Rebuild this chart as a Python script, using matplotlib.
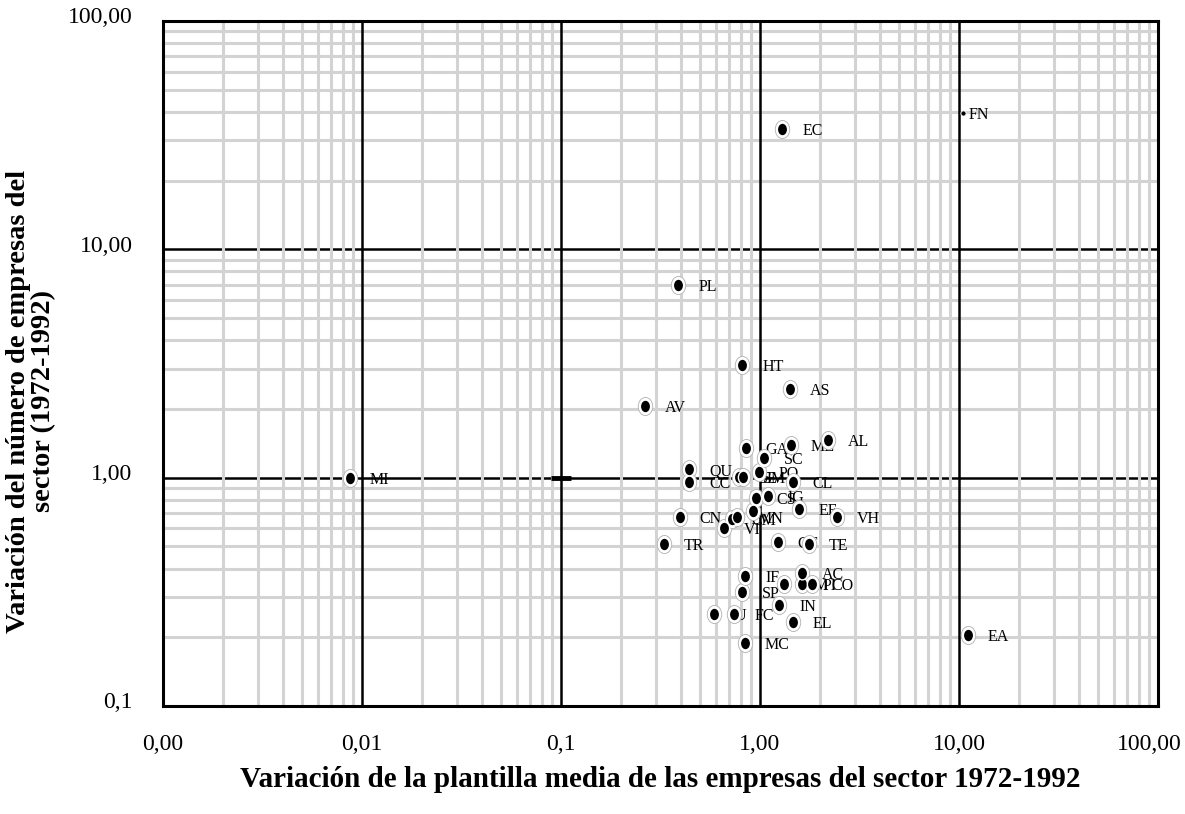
import numpy as np
import matplotlib
matplotlib.use("Agg")
import matplotlib.pyplot as plt
from matplotlib.path import Path
from matplotlib.transforms import Affine2D, ScaledTranslation

plt.rcParams['font.family'] = ['Liberation Serif', 'DejaVu Serif']

# sector codes and values
sectors = ["MI", "AV", "TR", "PL", "CN", "QU", "CC", "U", "VI", "CM", "FC",
           "MN", "", "SE", "SM", "SP", "HT", "IF", "MC", "GA", "CS",
           "PO", "SC", "IG", "CT", "IN", "EC", "VM", "AS", "ME", "CL",
           "EL", "EE", "PI", "AC", "TE", "CO", "AL", "VH", "FN", "EA"]
plantilla = [0.0087, 0.265, 0.328, 0.389, 0.395, 0.441, 0.441, 0.589, 0.657, 0.721, 0.743,
             0.769, 0.922, 0.787, 0.819, 0.815, 0.815, 0.841, 0.841, 0.847, 0.955,
             0.989, 1.044, 1.093, 1.227, 1.250, 1.295, 1.316, 1.420, 1.427, 1.460,
             1.465, 1.565, 1.632, 1.632, 1.763, 1.819, 2.189, 2.437, 10.5, 11.06]
empresas = [1.00, 2.065, 0.512, 6.95, 0.672, 1.087, 0.954, 0.254, 0.603, 0.659, 0.254,
            0.674, 0.714, 1.003, 1.003, 0.316, 3.112, 0.371, 0.189, 1.352, 0.811,
            1.061, 1.215, 0.831, 0.524, 0.277, 33.8, 0.342, 2.436, 1.389, 0.954,
            0.234, 0.729, 0.342, 0.381, 0.512, 0.342, 1.461, 0.672, 39.4, 0.204]
xticks = [0.001, 0.01, 0.1, 1, 10, 100]
xtick_labels = ["0,00", "0,01", "0,1", "1,00", "10,00", "100,00"]
yticks = [0.1, 1, 10, 100]
ytick_labels = ["0,1", "1,00", "10,00", "100,00"]

fig = plt.figure(figsize=(11.85, 8.14), dpi=100)
ax = fig.add_axes([0.1376, 0.1327, 0.8396, 0.8415])
ax.set_xscale("log")
ax.set_yscale("log")
ax.set_xlim(0.001, 100)
ax.set_ylim(0.1, 100)

# gray minor grid
for d in [0.001, 0.01, 0.1, 1, 10]:
    for k in range(2, 10):
        ax.axvline(d * k, color="#d3d3d3", lw=2.2, zorder=1)
for d in [0.1, 1, 10]:
    for k in range(2, 10):
        ax.axhline(d * k, color="#d3d3d3", lw=2.2, zorder=1)
# black decade lines
for v in [0.01, 0.1, 1, 10]:
    ax.axvline(v, color="black", lw=1.8, zorder=2)
for v in [1, 10]:
    ax.axhline(v, color="black", lw=1.8, zorder=0.9)

ell = Path.unit_circle().transformed(Affine2D().scale(0.8, 1.0))
x = np.array(plantilla)
y = np.array(empresas)
big = np.array([s != "FN" for s in sectors])
for i, lab in enumerate(sectors):
    f = 1.26 if big[i] else 1.07
    ax.text(x[i] * f, y[i] * 0.98, lab, fontsize=11.5, va="center", ha="left", zorder=3)
ax.scatter(x[big], y[big], s=170, marker=ell, facecolor="white", edgecolor="#b0b0b0", lw=0.6, zorder=4)
ax.scatter(x[big], y[big], s=85, marker=ell, facecolor="black", edgecolor="white", lw=1.0, zorder=5)
ax.scatter(x[~big], y[~big], s=14, marker="o", facecolor="black", edgecolor="white", lw=0.6, zorder=5)
ax.plot([0.1], [1.0], marker="_", markersize=14, mew=3.5, color="black", zorder=5)

ax.set_xticks(xticks)
ax.set_xticklabels(xtick_labels, fontsize=17)
ax.set_yticks(yticks)
ax.set_yticklabels(ytick_labels, fontsize=17)
ax.minorticks_off()
ax.tick_params(axis="x", length=0, pad=20)
ax.tick_params(axis="y", length=0, pad=22)
for s in ax.spines.values():
    s.set_linewidth(2.2)
    s.set_zorder(6)

# nudge labels like the original
last = ax.get_xticklabels()[-1]
last.set_transform(last.get_transform() + ScaledTranslation(-6 / 72, 0, fig.dpi_scale_trans))
for t in ax.get_yticklabels():
    t.set_transform(t.get_transform() + ScaledTranslation(0, 4 / 72, fig.dpi_scale_trans))

ax.set_xlabel("Variación de la plantilla media de las empresas del sector 1972-1992",
              fontsize=21, fontweight="bold", labelpad=8)
fig.text(31 / 1185, 1 - 401 / 814, "Variación del número de empresas del\nsector (1972-1992)",
         fontsize=20.5, fontweight="bold", rotation=90, ha="center", va="center",
         multialignment="center", linespacing=1.0)

fig.savefig("out.png", dpi=100)
